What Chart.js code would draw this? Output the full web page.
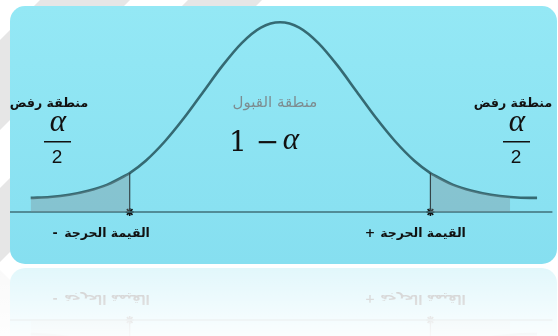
<!DOCTYPE html>
<html>
<head>
<meta charset="utf-8">
<script src="https://cdn.jsdelivr.net/npm/chart.js@4"></script>
<style>
  html, body { margin: 0; padding: 0; background: #fff; }
  #wrap { width: 558px; height: 336px; }
</style>
</head>
<body>
<div id="wrap"><canvas id="myChart" width="558" height="336"></canvas></div>
<script>
// valores (z em desvios padrao, altura da curva acima do eixo)
const zValues = [-3.25, -3, -2.75, -2.5, -2.25, -2, -1.96, -1.75, -1.5, -1.25, -1, -0.75, -0.5, -0.25, 0,
                 0.25, 0.5, 0.75, 1, 1.25, 1.5, 1.75, 1.96, 2, 2.25, 2.5, 2.75, 3, 3.25, 3.35];
const curveHeights = [0.032, 0.034, 0.039, 0.048, 0.062, 0.084, 0.088, 0.116, 0.160, 0.213, 0.272, 0.331, 0.382, 0.417, 0.429,
                      0.417, 0.382, 0.331, 0.272, 0.213, 0.160, 0.116, 0.088, 0.084, 0.062, 0.048, 0.039, 0.034, 0.032, 0.032];
const criticalValues = [-1.96, 1.96];
const axisRange = [-3.52, 3.55];

// textos
const acceptLabel = 'منطقة القبول';
const rejectLabel = 'منطقة رفض';
const criticalLabel = 'القيمة الحرجة';
const criticalSigns = ['-', '+'];

const points = zValues.map((z, i) => ({ x: z, y: curveHeights[i] }));
const leftTail = points.filter(p => p.x <= criticalValues[0]);
const rightTail = points.filter(p => p.x >= criticalValues[1] && p.x <= 3.1);
const heightAt = z => curveHeights[zValues.indexOf(z)];

// fundo: listras cinzas + painel azul arredondado
const panelPlugin = {
    id: 'panel',
    beforeDraw(chart) {
        const ctx = chart.ctx;
        ctx.save();
        ctx.fillStyle = '#fff';
        ctx.fillRect(0, 0, 558, 336);
        // listras diagonais (marca d'agua)
        ctx.fillStyle = '#e6e6e6';
        [[40, 130], [188, 262]].forEach(([a, b]) => {
            ctx.beginPath();
            ctx.moveTo(a, 0); ctx.lineTo(b, 0);
            ctx.lineTo(b - 400, 400); ctx.lineTo(a - 400, 400);
            ctx.closePath();
            ctx.fill();
        });
        const g = ctx.createLinearGradient(0, 6, 0, 264);
        g.addColorStop(0, '#94e8f5');
        g.addColorStop(1, '#86dff0');
        ctx.fillStyle = g;
        ctx.beginPath();
        ctx.roundRect(10, 6, 547, 258, 15);
        ctx.fill();
        ctx.restore();
    }
};

// textos do grafico
const textPlugin = {
    id: 'texts',
    afterDatasetsDraw(chart) {
        const ctx = chart.ctx;
        ctx.save();
        ctx.textAlign = 'center';
        ctx.textBaseline = 'middle';

        ctx.fillStyle = '#7d8c90';
        ctx.font = '15px "DejaVu Sans"';
        ctx.fillText(acceptLabel, 275, 103);

        ctx.fillStyle = '#111';
        ctx.font = 'bold 12.5px "DejaVu Sans"';
        ctx.fillText(rejectLabel, 49, 104);
        ctx.fillText(rejectLabel, 513, 104);

        ctx.font = 'bold 12.5px "DejaVu Sans"';
        ctx.fillText(criticalLabel, 107, 234);
        ctx.fillText(criticalLabel, 423, 234);
        ctx.fillText(criticalSigns[0], 55, 234);
        ctx.fillText(criticalSigns[1], 370, 234);

        ctx.font = '28px "DejaVu Serif"';
        ctx.fillText('1 −', 254, 144);
        ctx.font = 'italic 31px "Liberation Serif"';
        ctx.fillText('α', 291, 141);

        [57, 516].forEach(cx => {
            ctx.font = 'italic 31px "Liberation Serif"';
            ctx.fillText('α', cx + 1, 123);
            ctx.fillRect(cx - 13, 141, 27, 1.5);
            ctx.font = '19px "Liberation Sans"';
            ctx.fillText('2', cx, 158);
        });
        ctx.restore();
    }
};

// reflexo abaixo do painel
const reflectionPlugin = {
    id: 'reflection',
    afterDraw(chart) {
        const ctx = chart.ctx;
        const tmp = document.createElement('canvas');
        tmp.width = 558; tmp.height = 336;
        tmp.getContext('2d').drawImage(chart.canvas, 0, 0);
        ctx.save();
        ctx.fillStyle = '#fff';
        ctx.fillRect(0, 264, 558, 72);
        ctx.globalAlpha = 0.26;
        ctx.translate(0, 532);
        ctx.scale(1, -1);
        ctx.drawImage(tmp, 0, 196, 558, 68, 0, 196, 558, 68);
        ctx.restore();
        ctx.save();
        const g = ctx.createLinearGradient(0, 268, 0, 336);
        g.addColorStop(0, 'rgba(255,255,255,0.05)');
        g.addColorStop(1, 'rgba(255,255,255,0.85)');
        ctx.fillStyle = g;
        ctx.fillRect(0, 268, 558, 68);
        ctx.restore();
    }
};

const ctx1 = document.getElementById('myChart');
new Chart(ctx1, {
    type: 'line',
    data: {
        datasets: [
            {
                data: leftTail,
                borderWidth: 0,
                pointRadius: 0,
                fill: 'origin',
                backgroundColor: 'rgba(125,140,145,0.35)',
                cubicInterpolationMode: 'monotone'
            },
            {
                data: rightTail,
                borderWidth: 0,
                pointRadius: 0,
                fill: 'origin',
                backgroundColor: 'rgba(125,140,145,0.35)',
                cubicInterpolationMode: 'monotone'
            },
            {
                // eixo horizontal
                data: axisRange.map(x => ({ x: x, y: 0 })),
                borderColor: '#3f6f78',
                borderWidth: 1.5,
                pointRadius: 0,
                clip: false
            },
            ...criticalValues.map(z => ({
                data: [{ x: z, y: 0 }, { x: z, y: heightAt(z) }],
                borderColor: '#2b3b3f',
                borderWidth: 1.2,
                pointRadius: 0
            })),
            {
                data: points,
                borderColor: '#356a73',
                borderWidth: 2.6,
                pointRadius: 0,
                fill: false,
                cubicInterpolationMode: 'monotone'
            },
            {
                data: criticalValues.map(z => ({ x: z, y: 0 })),
                showLine: false,
                pointStyle: 'star',
                pointRadius: 4,
                borderColor: '#111',
                borderWidth: 1.6,
                clip: false
            }
        ]
    },
    options: {
        responsive: false,
        devicePixelRatio: 1,
        animation: false,
        layout: { padding: { left: 10, right: 0, top: 13, bottom: 124 } },
        plugins: { legend: { display: false }, tooltip: { enabled: false } },
        scales: {
            x: { type: 'linear', min: axisRange[0], max: axisRange[1], display: false },
            y: { min: 0, max: 0.45, display: false }
        }
    },
    plugins: [panelPlugin, textPlugin, reflectionPlugin]
});
</script>
</body>
</html>
